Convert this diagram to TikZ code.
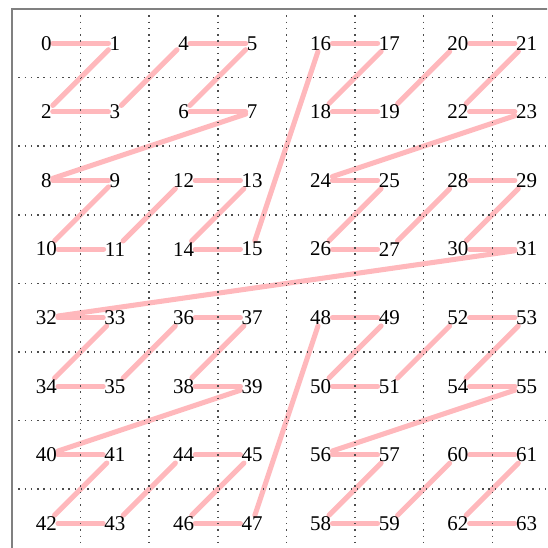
\documentclass[tikz,border=0pt]{standalone}
\usepackage{fontspec}
\setmainfont{Liberation Serif}
\usetikzlibrary{backgrounds}
\definecolor{zpink}{RGB}{255,184,188}
\begin{document}
\begin{tikzpicture}[
  frame/.style={draw=gray, line width=0.9pt},
  gridline/.style={draw=black!70, dotted, line width=0.6pt},
  num/.style={inner sep=0.3pt, font=\fontsize{8.7}{10}\selectfont},
  zline/.style={draw=zpink, line width=2.1pt, line cap=round}
]
  \useasboundingbox (-0.175,0.131) rectangle (7.80,-7.857);
  \clip (-0.175,0.131) rectangle (7.80,-7.857);
  % dotted cell grid
  \foreach \i in {1,...,7} {
    \draw[gridline] (\i,0) -- (\i,-8);
    \draw[gridline] (0,-\i) -- (8,-\i);
  }
  \draw[frame] (0,-8) -- (0,0) -- (8,0) -- (8,-8) -- cycle;
  % cell numbers in Z order
  \foreach \n in {0,...,63} {
    \pgfmathtruncatemacro{\cx}{mod(\n,2)+2*mod(floor(\n/4),2)+4*mod(floor(\n/16),2)}
    \pgfmathtruncatemacro{\cy}{mod(floor(\n/2),2)+2*mod(floor(\n/8),2)+4*mod(floor(\n/32),2)}
    \node[num] (n\n) at (\cx+0.5,-\cy-0.5) {\n};
  }
  % the curve
  \begin{pgfonlayer}{background}
    \foreach \n [remember=\n as \m (initially 0)] in {1,...,63}
      \draw[zline] (n\m) -- (n\n);
  \end{pgfonlayer}
\end{tikzpicture}
\end{document}
